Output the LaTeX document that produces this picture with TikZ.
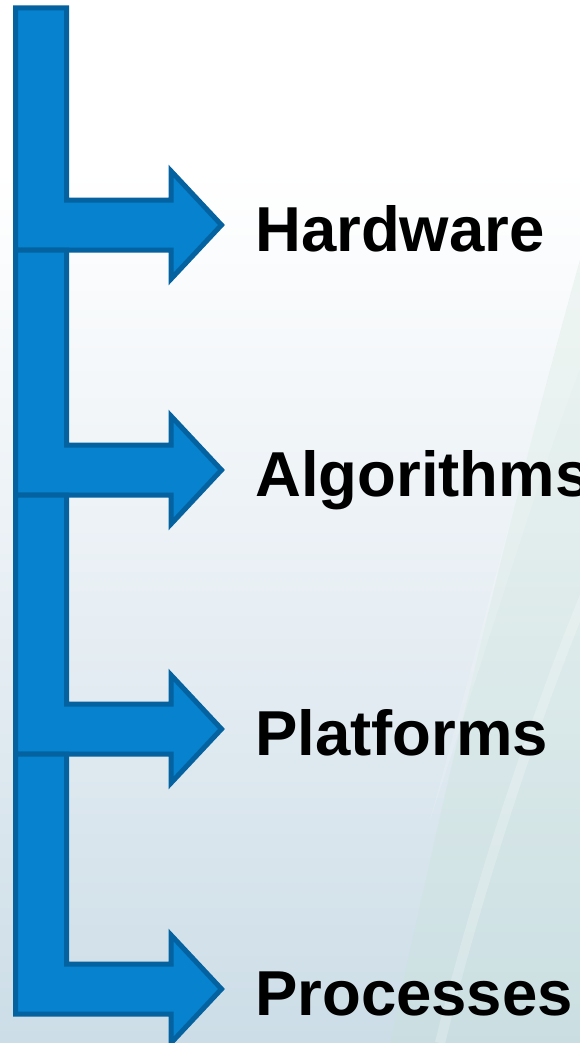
\documentclass[tikz,border=0pt]{standalone}
\usepackage{fontspec}
\setmainfont{Liberation Sans}
\definecolor{barfill}{RGB}{6,130,206}
\definecolor{barline}{RGB}{4,98,160}
\definecolor{bgmid}{RGB}{232,239,244}
\definecolor{bgbottom}{RGB}{204,221,231}
\definecolor{swoosh}{RGB}{200,228,214}
\begin{document}
\begin{tikzpicture}[x=1pt,y=-1pt,
  branch/.style={fill=barfill, draw=barline, line width=5pt, line join=miter},
  itemtext/.style={anchor=base west, inner sep=0pt, text=black,
    font=\fontsize{63.5}{63.5}\selectfont\bfseries}]
  % page frame and background
  \useasboundingbox (0,0) rectangle (580,1043);
  \begin{scope}
    \clip (0,0) rectangle (580,1043);
    \fill[white] (0,0) rectangle (580,170);
    \shade[top color=white, bottom color=bgmid] (0,169) rectangle (580,600);
    \shade[top color=bgmid, bottom color=bgbottom] (0,599) rectangle (580,1043);
    % faint curved swoosh on the right
    \fill[swoosh, opacity=0.28]
      (600,190) .. controls (530,430) and (450,760) .. (390,1043)
      -- (600,1043) -- cycle;
    \draw[white, opacity=0.22, line width=10pt]
      (600,560) .. controls (540,700) and (480,880) .. (440,1043);
    \fill[white, opacity=0.15]
      (600,190) .. controls (535,420) and (480,640) .. (430,820)
      .. controls (490,640) and (555,420) .. (600,320) -- cycle;
  \end{scope}
  % the four branches: vertical stem, horizontal arm and arrow head
  \foreach \top/\tip [count=\i] in {8/225, 250/470, 495/729, 754/989} {
    \draw[branch]
      (15.5,\top) -- (66.5,\top) -- (66.5,\tip-25) -- (171,\tip-25)
      -- (171,\tip-54) -- (221.5,\tip) -- (171,\tip+54)
      -- (171,\tip+25) -- (15.5,\tip+25) -- cycle;
    \coordinate (tip\i) at (221.5,\tip);
  }
  % labels beside the arrow heads
  \node[itemtext] (hw)   at (255,251)  {Hardware};
  \node[itemtext] (alg)  at (255,496)  {Algorithms};
  \node[itemtext] (plat) at (255,755)  {Platforms};
  \node[itemtext] (proc) at (255,1015) {Processes};
\end{tikzpicture}
\end{document}
